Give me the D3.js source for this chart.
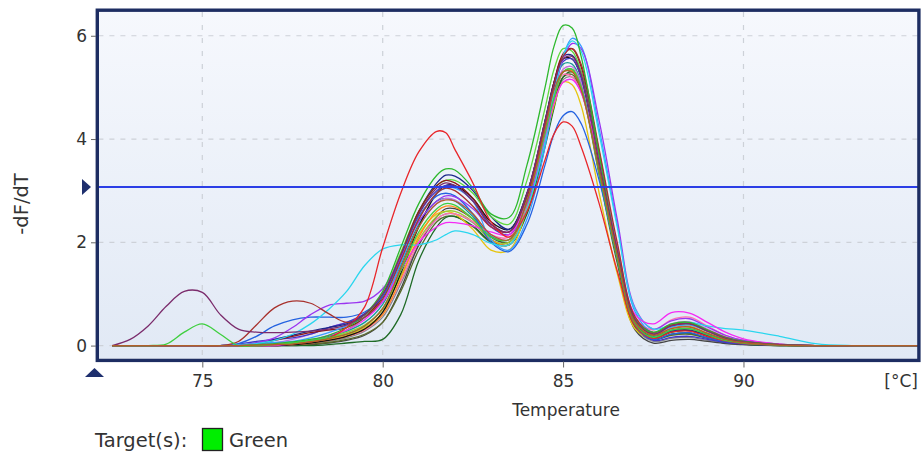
<!DOCTYPE html>
<html>
<head>
<meta charset="utf-8">
<script src="https://cdn.jsdelivr.net/npm/d3@7"></script>
<style>
  body { margin: 0; background: #fff; }
  svg { display: block; }
  text { font-family: "DejaVu Sans", Verdana, sans-serif; fill: #333; }
</style>
</head>
<body>
<svg id="chart" width="921" height="456"></svg>
<script>
// Melt curve: negative first derivative of fluorescence vs temperature, one line per well
const temps = [72.5, 73, 73.5, 74, 74.5, 75, 75.5, 76, 76.5, 77,
  77.5, 78, 78.5, 79, 79.5, 80, 80.5, 81, 81.5, 81.75,
  82, 82.5, 83, 83.5, 84, 84.5, 84.75, 85, 85.25, 85.5,
  86, 86.5, 87, 87.5, 88, 88.5, 89, 89.5, 90, 91,
  92, 93, 94.9];

const wellPlum = [0,0.12,0.38,0.76,1.05,1.03,0.6,0.32,0.26,0.25, 0.26,0.28,0.32,0.4,0.6,1.0,1.75,2.55,3.05,3.15, 3.1,2.8,2.35,2.2,2.95,4.35,5.05,5.55,5.6,5.25, 3.55,1.85,0.5,0.22,0.38,0.42,0.28,0.14,0.07,0.02, 0,0,0];
const wellLightGreen = [0,0,0,0.03,0.26,0.42,0.22,0,0,0.02, 0.05,0.1,0.15,0.22,0.38,0.72,1.45,2.2,2.65,2.75, 2.72,2.45,2.1,2.05,2.8,4.1,4.8,5.3,5.35,5.0, 3.35,1.7,0.42,0.16,0.3,0.33,0.21,0.1,0.05,0.01, 0,0,0];
const wellMaroon = [0,0,0,0,0,0,0,0.08,0.4,0.73, 0.86,0.82,0.62,0.45,0.55,0.9,1.65,2.45,2.95,3.05, 3.0,2.7,2.3,2.2,2.9,4.3,5.05,5.6,5.75,5.45, 3.8,2.0,0.55,0.25,0.4,0.43,0.3,0.16,0.08,0.02, 0,0,0];
const wellRed = [0,0,0,0,0,0,0,0,0,0.02, 0.04,0.07,0.15,0.35,0.75,1.9,2.95,3.75,4.15,4.12, 3.8,3.15,2.4,2.1,2.6,3.6,4.1,4.33,4.25,3.85, 2.75,1.45,0.38,0.14,0.26,0.28,0.18,0.09,0.04,0.01, 0,0,0];
const wellCyan = [0,0,0,0,0,0,0,0,0.04,0.1, 0.22,0.42,0.7,1.05,1.55,1.87,1.95,1.95,2.05,2.15, 2.22,2.15,1.98,1.95,2.65,3.95,4.9,5.6,5.9,5.7, 4.1,2.3,0.7,0.32,0.4,0.45,0.38,0.33,0.3,0.18, 0.04,0,0];
const wellMagenta = [0,0,0,0,0,0,0,0,0,0, 0.04,0.1,0.2,0.3,0.5,0.85,1.45,2.0,2.3,2.38, 2.38,2.32,2.2,2.15,2.8,4.05,4.7,5.1,5.15,4.9, 3.6,1.95,0.6,0.42,0.64,0.63,0.45,0.26,0.13,0.03, 0,0,0];
const wellGreen = [0,0,0,0,0,0,0,0,0.02,0.04, 0.07,0.12,0.2,0.35,0.6,1.05,1.9,2.75,3.3,3.42, 3.4,3.05,2.55,2.48,3.5,5.0,5.8,6.2,6.15,5.6, 3.7,1.85,0.5,0.26,0.42,0.45,0.3,0.15,0.08,0.02, 0,0,0];
const wellDarkGreen = [0,0,0,0,0,0,0,0,0,0, 0,0,0.02,0.05,0.08,0.12,0.6,1.65,2.3,2.48, 2.5,2.32,2.02,1.95,2.55,3.85,4.6,5.2,5.3,5.0, 3.45,1.75,0.38,0.12,0.22,0.24,0.15,0.08,0.03,0, 0,0,0];
const wellCharcoal = [0,0,0,0,0,0,0,0,0,0, 0,0.02,0.05,0.1,0.2,0.45,1.1,1.95,2.5,2.65, 2.65,2.45,2.1,2.0,2.75,4.0,4.75,5.3,5.35,5.05, 3.4,1.65,0.3,0.05,0.1,0.12,0.08,0.04,0.02,0, 0,0,0];
const wellBlue = [0,0,0,0,0,0,0,0.04,0.18,0.38, 0.5,0.55,0.55,0.55,0.65,0.95,1.7,2.5,2.9,2.95, 2.9,2.55,2.0,1.82,2.35,3.5,4.1,4.45,4.53,4.3, 3.2,1.7,0.38,0.12,0.22,0.25,0.15,0.08,0.04,0.01, 0,0,0];
const wellNavy = [0,0,0,0,0,0,0,0,0.05,0.12, 0.2,0.28,0.35,0.42,0.6,0.95,1.75,2.6,3.15,3.3, 3.28,3.0,2.5,2.25,2.95,4.35,5.1,5.6,5.62,5.3, 3.6,1.8,0.45,0.15,0.28,0.3,0.2,0.1,0.05,0.01, 0,0,0];
const wellViolet = [0,0,0,0,0,0,0,0,0.05,0.15, 0.35,0.6,0.78,0.82,0.86,1.1,1.7,2.4,2.8,2.9, 2.88,2.65,2.3,2.2,2.75,4.0,4.9,5.55,5.85,5.75, 4.35,2.45,0.72,0.32,0.48,0.52,0.36,0.2,0.1,0.03, 0,0,0];
const wellOrange = [0,0,0,0,0,0,0,0,0,0.01, 0.02,0.05,0.1,0.18,0.32,0.6,1.3,2.1,2.6,2.7, 2.68,2.45,2.05,1.95,2.7,4.05,4.8,5.3,5.32,5.0, 3.35,1.7,0.45,0.2,0.34,0.37,0.24,0.12,0.06,0.01, 0,0,0];
const wellGold = [0,0,0,0,0,0,0,0,0,0.01, 0.03,0.06,0.12,0.2,0.35,0.65,1.4,2.15,2.55,2.6, 2.55,2.25,1.85,1.85,2.65,3.95,4.65,5.1,5.05,4.65, 2.95,1.4,0.32,0.14,0.28,0.3,0.2,0.1,0.05,0.01, 0,0,0];
const wellYellowGreen = [0,0,0,0,0,0,0,0,0.01,0.03, 0.05,0.09,0.15,0.25,0.4,0.7,1.35,2.05,2.5,2.6, 2.6,2.4,2.05,2.0,2.75,4.05,4.8,5.3,5.35,5.05, 3.45,1.75,0.48,0.24,0.38,0.4,0.28,0.17,0.1,0.03, 0,0,0];
const wellDarkRed = [0,0,0,0,0,0,0,0,0.03,0.1, 0.18,0.25,0.3,0.35,0.55,0.95,1.75,2.6,3.1,3.2, 3.15,2.85,2.35,2.2,2.9,4.3,5.1,5.65,5.75,5.4, 3.75,1.9,0.5,0.22,0.38,0.42,0.28,0.15,0.08,0.02, 0,0,0];
const wellTeal = [0,0,0,0,0,0,0,0,0,0.02, 0.05,0.1,0.18,0.28,0.45,0.8,1.55,2.35,2.8,2.85, 2.8,2.5,2.12,2.05,2.85,4.25,5.0,5.45,5.45,5.1, 3.35,1.7,0.42,0.18,0.3,0.33,0.22,0.11,0.05,0.01, 0,0,0];
const wellPink = [0,0,0,0,0,0,0,0,0,0, 0.02,0.05,0.1,0.18,0.3,0.6,1.25,2.0,2.45,2.55, 2.55,2.4,2.15,2.1,2.8,4.1,4.85,5.25,5.2,4.9, 3.5,1.85,0.55,0.3,0.5,0.55,0.38,0.2,0.1,0.02, 0,0,0];
const wellGray = [0,0,0,0,0,0,0,0,0,0, 0.02,0.04,0.08,0.15,0.28,0.55,1.2,1.95,2.45,2.55, 2.55,2.38,2.05,1.95,2.6,3.9,4.65,5.15,5.2,4.95, 3.4,1.7,0.35,0.08,0.14,0.16,0.1,0.05,0.02,0, 0,0,0];
const wellSky = [0,0,0,0,0,0,0,0.02,0.04,0.06, 0.08,0.15,0.25,0.38,0.55,0.85,1.6,2.45,2.95,3.05, 3.05,2.8,2.05,1.85,2.45,3.85,4.8,5.6,5.95,5.8, 4.2,2.35,0.65,0.25,0.36,0.4,0.28,0.16,0.09,0.02, 0,0,0];
const wellLime = [0,0,0,0,0,0,0,0,0,0.02, 0.04,0.08,0.15,0.3,0.55,1.0,1.8,2.6,3.1,3.2, 3.2,2.95,2.5,2.35,3.2,4.6,5.35,5.75,5.7,5.3, 3.55,1.8,0.5,0.25,0.4,0.44,0.3,0.16,0.08,0.02, 0,0,0];
const wellOlive = [0,0,0,0,0,0,0,0,0,0, 0.01,0.03,0.06,0.12,0.22,0.45,1.05,1.85,2.4,2.5, 2.5,2.3,2.0,1.95,2.65,3.95,4.7,5.2,5.25,4.95, 3.3,1.6,0.35,0.12,0.2,0.22,0.14,0.07,0.03,0, 0,0,0];
const wellIndigo = [0,0,0,0,0,0,0,0.03,0.08,0.12, 0.15,0.22,0.35,0.45,0.62,0.95,1.7,2.55,3.0,3.1, 3.08,2.8,2.3,2.15,2.8,4.2,5.0,5.5,5.55,5.2, 3.55,1.8,0.4,0.1,0.16,0.18,0.12,0.06,0.03,0.01, 0,0,0];
const wellBlack = [0,0,0,0,0,0,0,0,0,0, 0.02,0.05,0.1,0.18,0.32,0.65,1.4,2.3,2.95,3.1, 3.1,2.85,2.4,2.25,2.95,4.35,5.1,5.55,5.55,5.2, 3.5,1.75,0.42,0.15,0.26,0.29,0.18,0.09,0.04,0.01, 0,0,0];
const wellOrchid = [0,0,0,0,0,0,0,0,0.02,0.05, 0.12,0.22,0.35,0.45,0.55,0.85,1.5,2.3,2.75,2.85, 2.82,2.55,2.15,2.05,2.75,4.1,4.85,5.35,5.4,5.1, 3.5,1.8,0.5,0.24,0.42,0.46,0.32,0.17,0.08,0.02, 0,0,0];
const wellBrown = [0,0,0,0,0,0,0,0,0.01,0.02, 0.03,0.07,0.13,0.22,0.38,0.72,1.5,2.3,2.75,2.82, 2.8,2.55,2.15,2.05,2.8,4.2,4.95,5.3,5.3,4.95, 3.4,1.75,0.45,0.2,0.33,0.36,0.24,0.12,0.06,0.01, 0,0,0];

const wells = [wellGray, wellCharcoal, wellOlive, wellDarkGreen, wellGold, wellYellowGreen, wellPink,
  wellOrange, wellTeal, wellOrchid, wellBlack, wellIndigo, wellNavy, wellLime, wellDarkRed,
  wellBlue, wellSky, wellViolet, wellCyan, wellMagenta, wellMaroon, wellGreen, wellRed,
  wellLightGreen, wellPlum, wellBrown];
const wellColors = ["#8a8a8a", "#444444", "#5a6b2a", "#1f6b26", "#e6c410", "#9ccc2e", "#ff70b0",
  "#ff8c1a", "#179a96", "#c46fe0", "#151515", "#4336c8", "#1c2a8a", "#5fd93c", "#8e1616",
  "#2462e0", "#3a9cff", "#9b35f0", "#2ad6ee", "#f52af5", "#a8322d", "#2db82d", "#e8262a",
  "#3fcf3f", "#7b2c6c", "#b0602a"];

const yTicks = [0, 2, 4, 6];
const xTicks = [75, 80, 85, 90];
const threshold = 3.07;
const targets = ["Green"];
const targetColors = ["#00ee00"];

const svg = d3.select("#chart");
const x = d3.scaleLinear().domain([72.12, 94.84]).range([98.4, 918.1]);
const y = d3.scaleLinear().domain([-0.25, 6.46]).range([358.5, 12]);
const [x0, x1] = x.range();
const [y1, y0] = y.range();

// plot background
const defs = svg.append("defs");
const grad = defs.append("linearGradient").attr("id", "bg").attr("x1", 0).attr("y1", 0).attr("x2", 0).attr("y2", 1);
grad.append("stop").attr("offset", "0%").attr("stop-color", "#f6f8fd");
grad.append("stop").attr("offset", "100%").attr("stop-color", "#e1e9f5");
defs.append("clipPath").attr("id", "plotClip").append("rect")
  .attr("x", x0).attr("y", y0).attr("width", x1 - x0).attr("height", y1 - y0);

svg.append("rect").attr("x", x0).attr("y", y0).attr("width", x1 - x0).attr("height", y1 - y0)
  .attr("fill", "url(#bg)");

// grid
const grid = svg.append("g").attr("stroke", "#cdd1d8").attr("stroke-width", 1.2);
grid.selectAll(".gy").data(yTicks).join("line")
  .attr("x1", x0).attr("x2", x1).attr("y1", d => y(d)).attr("y2", d => y(d))
  .attr("stroke-dasharray", "5,6");
grid.selectAll(".gx").data(xTicks).join("line")
  .attr("x1", d => x(d)).attr("x2", d => x(d)).attr("y1", y0).attr("y2", y1)
  .attr("stroke-dasharray", "5,8");

// curves
const line = d3.line()
  .x((d, i) => x(temps[i]))
  .y(d => y(d))
  .curve(d3.curveCatmullRom.alpha(0.5));

const plot = svg.append("g").attr("clip-path", "url(#plotClip)");
plot.selectAll("path.well").data(wells).join("path")
  .attr("class", "well")
  .attr("d", d => line(d))
  .attr("fill", "none")
  .attr("stroke", (d, i) => wellColors[i])
  .attr("stroke-width", 1.3);

// threshold
plot.append("line").attr("x1", x0).attr("x2", x1)
  .attr("y1", y(threshold)).attr("y2", y(threshold))
  .attr("stroke", "#2b3ee6").attr("stroke-width", 2);

// frame
svg.append("rect").attr("x", 97.3).attr("y", 10.2).attr("width", 821.6).attr("height", 350.2)
  .attr("fill", "none").attr("stroke", "#1d2d62").attr("stroke-width", 3.4);

// axes
const yAxis = svg.append("g").attr("transform", "translate(96,0)")
  .call(d3.axisLeft(y).tickValues(yTicks).tickSize(5).tickPadding(4).tickFormat(d3.format("d")));
const xAxis = svg.append("g").attr("transform", "translate(0,361.5)")
  .call(d3.axisBottom(x).tickValues(xTicks).tickSize(6).tickPadding(7).tickFormat(d3.format("d")));
[yAxis, xAxis].forEach(g => {
  g.select(".domain").remove();
  g.selectAll(".tick line").attr("stroke", "#666");
  g.selectAll(".tick text").attr("fill", "#333").style("font-size", "17px")
    .style("font-family", "'DejaVu Sans', Verdana, sans-serif");
});

// markers
const markerColor = "#1e2f6e";
svg.append("path")
  .attr("d", d3.line()([[82, y(threshold) - 8], [91, y(threshold)], [82, y(threshold) + 8]]) + "Z")
  .attr("fill", markerColor);
svg.append("path")
  .attr("d", d3.line()([[85, 377], [94.5, 368], [104, 377]]) + "Z")
  .attr("fill", markerColor);

// labels
svg.append("text").attr("x", 918).attr("y", 386.5).attr("text-anchor", "end")
  .style("font-size", "17px").text("[°C]");
svg.append("text").attr("x", 566).attr("y", 416).attr("text-anchor", "middle")
  .style("font-size", "17px").text("Temperature");
svg.append("text").attr("transform", "translate(28,204) rotate(-90)").attr("text-anchor", "middle")
  .style("font-size", "19.5px").text("-dF/dT");

// legend
const legend = svg.append("g");
legend.append("text").attr("x", 95).attr("y", 447).style("font-size", "19.5px").text("Target(s):");
targets.forEach((t, i) => {
  legend.append("rect").attr("x", 202.5).attr("y", 428.5).attr("width", 20).attr("height", 22)
    .attr("fill", targetColors[i]).attr("stroke", "#222").attr("stroke-width", 1.3);
  legend.append("text").attr("x", 229).attr("y", 447).style("font-size", "19.5px").text(t);
});
</script>
</body>
</html>
